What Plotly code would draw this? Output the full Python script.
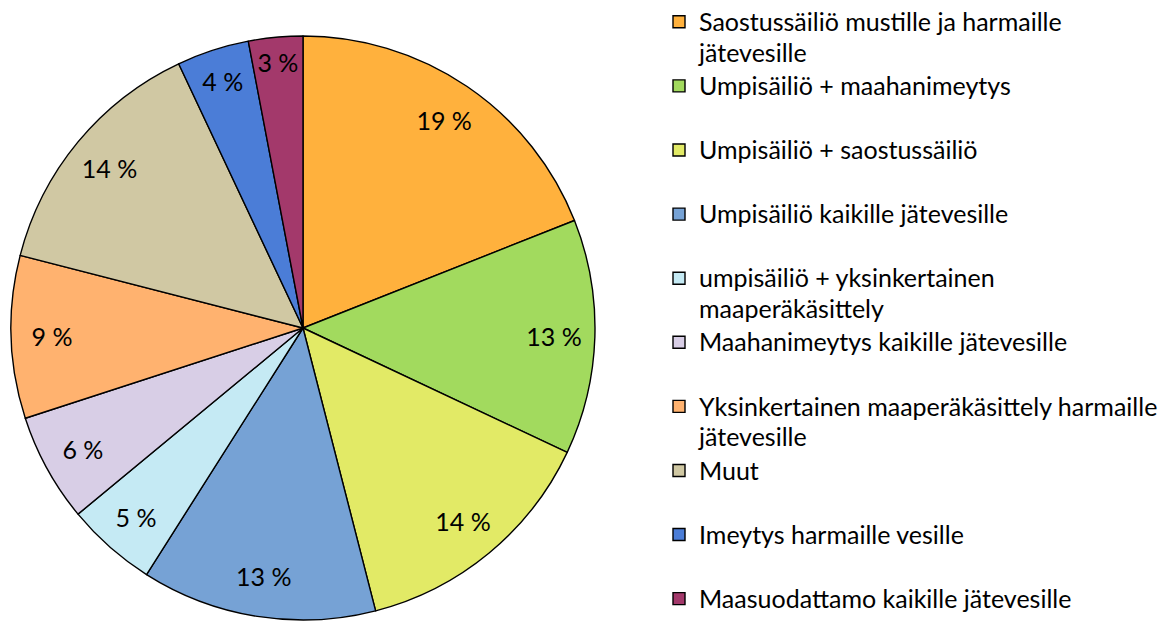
import plotly.graph_objects as go

categories = [
    "Saostussäiliö mustille ja harmaille<br>jätevesille",
    "Umpisäiliö + maahanimeytys",
    "Umpisäiliö + saostussäiliö",
    "Umpisäiliö kaikille jätevesille",
    "umpisäiliö + yksinkertainen<br>maaperäkäsittely",
    "Maahanimeytys kaikille jätevesille",
    "Yksinkertainen maaperäkäsittely harmaille<br>jätevesille",
    "Muut",
    "Imeytys harmaille vesille",
    "Maasuodattamo kaikille jätevesille",
]
values = [19, 13, 14, 13, 5, 6, 9, 14, 4, 3]
colors = ["#FFB13D", "#A2DA5E", "#E2EA66", "#76A2D5", "#C5EAF4",
          "#D8CEE6", "#FFB26F", "#D0C8A3", "#4B7DD7", "#A3396B"]

FONT = "Lato"
TXT = 25

def legend_label(c, last):
    lines = c.split("<br>")
    if len(lines) == 1 and not last:
        lines.append(" ")
    return "<br>".join(f'<span style="font-size:{TXT}px">{l}</span>' for l in lines)

labels = [legend_label(c, i == len(categories) - 1) for i, c in enumerate(categories)]
texts = [f"{v} %" for v in values]
DOMAIN = dict(x=[11/1166, 595/1166], y=[1/621, 585/621])

# slices + legend
fig = go.Figure(go.Pie(
    labels=labels,
    values=values,
    textinfo="none",
    marker=dict(colors=colors, line=dict(color="#000000", width=1.4)),
    sort=False,
    direction="clockwise",
    rotation=0,
    domain=DOMAIN,
    hoverinfo="skip",
))

# percentage labels placed by the library in an outer ring
fig.add_trace(go.Pie(
    labels=[c.replace("<br>", " ") for c in categories],
    values=values,
    text=texts,
    textinfo="text",
    textposition="inside",
    insidetextorientation="horizontal",
    textfont=dict(family=FONT, size=TXT, color="#000000"),
    hole=0.72,
    marker=dict(colors=["rgba(0,0,0,0)"] * len(values), line=dict(width=0)),
    sort=False,
    direction="clockwise",
    rotation=0,
    domain=DOMAIN,
    hoverinfo="skip",
    showlegend=False,
))

fig.update_layout(
    width=1166, height=621,
    margin=dict(l=0, r=0, t=0, b=0),
    paper_bgcolor="#FFFFFF",
    plot_bgcolor="#FFFFFF",
    showlegend=True,
    legend=dict(
        x=659/1166, xanchor="left",
        y=1.0, yanchor="top",
        font=dict(family=FONT, size=23.5, color="#000000"),
        valign="top",
        bgcolor="rgba(0,0,0,0)",
        itemclick=False, itemdoubleclick=False,
    ),
    uniformtext=dict(minsize=TXT, mode="show"),
)

fig.write_html("out.html", config={"displayModeBar": False},
               post_script="document.body.style.margin='0';")
